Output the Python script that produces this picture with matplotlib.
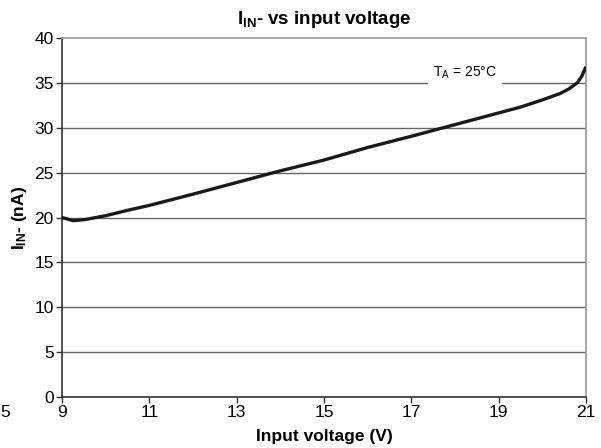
import matplotlib
matplotlib.use("Agg")
import matplotlib.pyplot as plt

# input voltage (V) and I_IN- (nA)
voltage = [9.0, 9.25, 9.5, 10.0, 10.5, 11.0, 12.0, 13.0, 14.0, 15.0, 16.0,
           17.0, 18.0, 19.0, 19.5, 20.0, 20.4, 20.6, 20.8, 20.9, 21.0]
current = [20.0, 19.65, 19.75, 20.2, 20.8, 21.35, 22.6, 23.9, 25.2, 26.4, 27.8,
           29.05, 30.35, 31.65, 32.3, 33.1, 33.8, 34.3, 35.0, 35.7, 36.8]

x_ticks = [9, 11, 13, 15, 17, 19, 21]
y_ticks = [0, 5, 10, 15, 20, 25, 30, 35, 40]

plt.rcParams['font.family'] = ['Liberation Sans', 'DejaVu Sans']
plt.rcParams['mathtext.fontset'] = 'custom'
plt.rcParams['mathtext.rm'] = 'Liberation Sans'
plt.rcParams['mathtext.it'] = 'Liberation Sans'
plt.rcParams['mathtext.bf'] = 'Liberation Sans:bold'

fig = plt.figure(figsize=(6.01, 4.48), dpi=100)
ax = fig.add_axes([0.1032, 0.1138, 0.8718, 0.8014])

# horizontal grid
for y in y_ticks[1:-1]:
    ax.axhline(y, color='#666666', linewidth=1.0, zorder=1)

ax.plot(voltage, current, color='#1a1a1a', linewidth=2.4, zorder=3,
        solid_capstyle='butt')

ax.set_xlim(9, 21)
ax.set_ylim(0, 40)
ax.set_xticks(x_ticks)
ax.set_yticks(y_ticks)
ax.tick_params(axis='both', labelsize=12.5, length=4, width=1, color='#333333',
               direction='out', pad=2)

for side in ['left', 'bottom']:
    ax.spines[side].set_color('#333333')
    ax.spines[side].set_linewidth(1.2)
for side in ['top', 'right']:
    ax.spines[side].set_color('#999999')
    ax.spines[side].set_linewidth(1.2)

ax.set_title(r'$\mathbf{I_{IN}}$- vs input voltage', fontsize=13.5,
             fontweight='bold', pad=10)
ax.set_xlabel('Input voltage (V)', fontsize=12.5, fontweight='bold', labelpad=6)
ax.set_ylabel(r'$\mathbf{I_{IN}}$- (nA)', fontsize=12.5, fontweight='bold',
              labelpad=4)

ax.text(18.23, 36.1, r'T$_{\mathrm{A}}$ = 25°C', fontsize=10, ha='center',
        va='center', zorder=4,
        bbox=dict(facecolor='white', edgecolor='none', pad=4))

# stray label at the lower left of the original
fig.text(0.0, 0.080, '5', fontsize=12.5, ha='left', va='center')

fig.savefig('out.png', dpi=100)
